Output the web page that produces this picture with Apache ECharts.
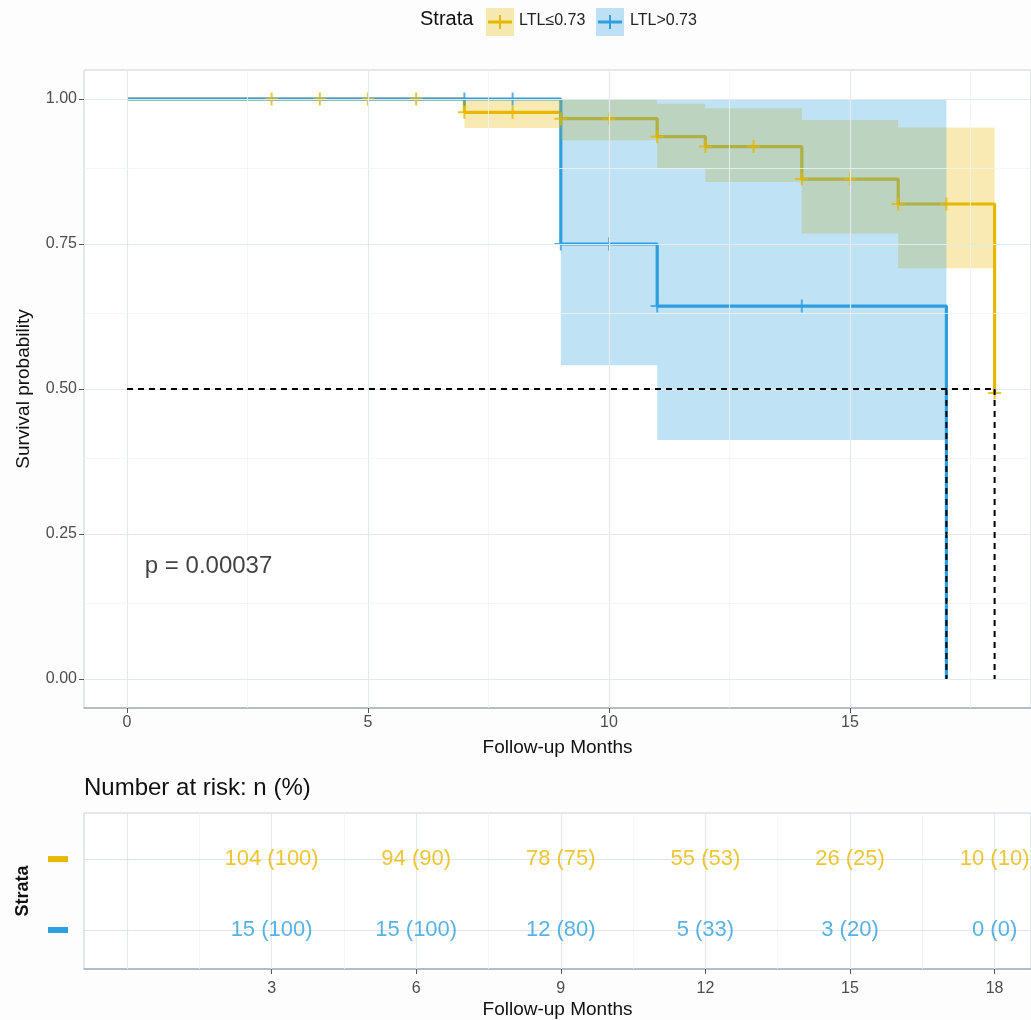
<!DOCTYPE html>
<html>
<head>
<meta charset="utf-8">
<script src="https://cdn.jsdelivr.net/npm/echarts@6/dist/echarts.min.js"></script>
<style>
  html, body { margin: 0; padding: 0; background: #fdfdfe; }
  #chart { width: 1031px; height: 1020px; }
</style>
</head>
<body>
<div id="chart"></div>
<script>
// survival curves (time, probability)
var yellowTimes = [0, 7, 9, 11, 12, 14, 16, 18];
var yellowSurv = [1, 0.977, 0.966, 0.935, 0.918, 0.862, 0.819, 0.493];
var blueTimes = [0, 9, 11, 17];
var blueSurv = [1, 0.75, 0.643, 0];

// censor marks
var yellowCensorTimes = [3, 4, 5, 6, 7, 8, 9, 10, 11, 12, 13, 14, 15, 16, 17, 18];
var yellowCensorSurv = [1, 1, 1, 1, 0.977, 0.977, 0.966, 0.966, 0.935, 0.918, 0.918, 0.862, 0.862, 0.819, 0.819, 0.493];
var blueCensorTimes = [7, 8, 9, 10, 11, 14];
var blueCensorSurv = [1, 1, 0.75, 0.75, 0.643, 0.643];

// confidence bands: [from, to, lower, upper]
var yellowBand = [[7, 9, 0.95, 1], [9, 11, 0.929, 1], [11, 12, 0.881, 0.992], [12, 14, 0.857, 0.984], [14, 16, 0.768, 0.964], [16, 18, 0.708, 0.951]];
var blueBand = [[9, 11, 0.541, 1], [11, 17, 0.412, 1]];

// median survival times
var medianTimes = [17, 18];

// number at risk table
var riskTimes = [3, 6, 9, 12, 15, 18];
var yellowRiskN = [104, 94, 78, 55, 26, 10];
var yellowRiskPct = [100, 90, 75, 53, 25, 10];
var blueRiskN = [15, 15, 12, 5, 3, 0];
var blueRiskPct = [100, 100, 80, 33, 20, 0];

var xTicks = [0, 5, 10, 15];
var yTicks = [0, 0.25, 0.5, 0.75, 1];
var riskTicks = [3, 6, 9, 12, 15, 18];

var YELLOW = '#E7B800', BLUE = '#2E9FDF';
var FONT = 'Liberation Sans';
var X_MIN = -0.892, X_MAX = 18.755;

function zip(a, b) {
  var out = [];
  for (var i = 0; i < a.length; i++) out.push([a[i], b[i]]);
  return out;
}

function bandRender(fill) {
  return function (params, api) {
    var p0 = api.coord([api.value(0), api.value(3)]);
    var p1 = api.coord([api.value(1), api.value(2)]);
    return {
      type: 'rect',
      shape: { x: p0[0], y: p0[1], width: p1[0] - p0[0], height: p1[1] - p0[1] },
      style: { fill: fill }
    };
  };
}

var MAJOR = { color: '#E4E9ED', width: 1.2, type: 'solid' };
var MINOR = { color: '#F1F3F5', width: 0.8, type: 'solid' };

// grid lines for main panel
var mainGridLines = [];
for (var gx = 0; gx <= 17.5; gx += 2.5) {
  mainGridLines.push({ xAxis: gx, lineStyle: gx % 5 === 0 ? MAJOR : MINOR });
}
for (var gy = 0; gy <= 1; gy += 0.125) {
  mainGridLines.push({ yAxis: gy, lineStyle: gy % 0.25 === 0 ? MAJOR : MINOR });
}
// grid lines for risk table
var tableGridLines = [];
for (var tx = 0; tx <= 18; tx += 1.5) {
  tableGridLines.push({ xAxis: tx, lineStyle: tx % 3 === 0 ? MAJOR : MINOR });
}
tableGridLines.push({ yAxis: 0, lineStyle: { color: '#DDE6EC', width: 1.2, type: 'solid' } });
tableGridLines.push({ yAxis: 1, lineStyle: { color: '#DDE6EC', width: 1.2, type: 'solid' } });

var medianSeries = [{
  type: 'line', xAxisIndex: 0, yAxisIndex: 0, z: 6, symbol: 'none', silent: true,
  data: [[0, 0.5], [Math.max.apply(null, medianTimes), 0.5]],
  lineStyle: { color: '#000', width: 2, type: [6, 5] }
}];
medianTimes.forEach(function (t) {
  medianSeries.push({
    type: 'line', xAxisIndex: 0, yAxisIndex: 0, z: 6, symbol: 'none', silent: true,
    data: [[t, 0.5], [t, 0]],
    lineStyle: { color: '#000', width: 2, type: [6, 5] }
  });
});

var plus = 'path://M0,5L10,5M5,0L5,10';

function riskData(row, n, pct) {
  return riskTimes.map(function (t, i) { return [t, row, n[i], pct[i]]; });
}
function riskLabel(p) { return p.value[2] + ' (' + p.value[3] + ')'; }

var chart = echarts.init(document.getElementById('chart'));
chart.setOption({
  backgroundColor: '#fdfdfe',
  animation: false,
  textStyle: { fontFamily: FONT },
  title: {
    text: 'Number at risk: n (%)',
    left: 84, top: 776, padding: 0,
    textStyle: { fontSize: 24, fontWeight: 'normal', color: '#111', fontFamily: FONT }
  },
  grid: [
    { left: 84, top: 70, width: 947, height: 638, show: true, backgroundColor: '#fff', borderColor: '#C9D2D9', borderWidth: 1 },
    { left: 84, top: 813, width: 947, height: 156, show: true, backgroundColor: '#fff', borderColor: '#C9D2D9', borderWidth: 1 }
  ],
  xAxis: [
    {
      type: 'value', gridIndex: 0, min: X_MIN, max: X_MAX,
      name: 'Follow-up Months', nameLocation: 'middle', nameGap: 30,
      nameTextStyle: { fontSize: 19, color: '#111' },
      axisLine: { show: true, onZero: false, lineStyle: { color: '#A3B0BA', width: 1.5 } },
      axisTick: { show: true, customValues: xTicks, length: 5, lineStyle: { color: '#555' } },
      axisLabel: { customValues: xTicks, fontSize: 16, color: '#4D4D4D', margin: 7 },
      splitLine: { show: false }
    },
    {
      type: 'value', gridIndex: 1, min: X_MIN, max: X_MAX,
      name: 'Follow-up Months', nameLocation: 'middle', nameGap: 31,
      nameTextStyle: { fontSize: 19, color: '#111' },
      axisLine: { show: true, onZero: false, lineStyle: { color: '#A3B0BA', width: 1.5 } },
      axisTick: { show: true, customValues: riskTicks, length: 5, lineStyle: { color: '#555' } },
      axisLabel: { customValues: riskTicks, fontSize: 16, color: '#4D4D4D', margin: 12 },
      splitLine: { show: false }
    }
  ],
  yAxis: [
    {
      type: 'value', gridIndex: 0, min: -0.05, max: 1.05,
      name: 'Survival probability', nameLocation: 'middle', nameGap: 51, nameRotate: 90,
      nameTextStyle: { fontSize: 19, color: '#111' },
      axisLine: { show: false, onZero: false },
      axisTick: { show: true, customValues: yTicks, length: 5, lineStyle: { color: '#555' } },
      axisLabel: { customValues: yTicks, fontSize: 16, color: '#4D4D4D', margin: 7,
        formatter: function (v) { return v.toFixed(2); } },
      splitLine: { show: false }
    },
    {
      type: 'value', gridIndex: 1, min: -0.55, max: 1.65,
      name: 'Strata', nameLocation: 'middle', nameGap: 52, nameRotate: 90,
      nameTextStyle: { fontSize: 18, fontWeight: 'bold', color: '#111' },
      axisLine: { show: false, onZero: false },
      axisTick: { show: false },
      axisLabel: {
        customValues: [0, 1], margin: 16,
        formatter: function (v) { return v === 1 ? '{a|}' : '{b|}'; },
        rich: {
          a: { backgroundColor: YELLOW, width: 20, height: 6 },
          b: { backgroundColor: BLUE, width: 20, height: 6 }
        }
      },
      splitLine: { show: false }
    }
  ],
  graphic: [
    { type: 'text', left: 420, top: 9, style: { text: 'Strata', fontSize: 20, fill: '#111', fontFamily: FONT } },
    { type: 'rect', left: 486, top: 8, shape: { width: 28, height: 28 }, style: { fill: 'rgba(231,184,0,0.3)' } },
    { type: 'line', shape: { x1: 488, y1: 22, x2: 512, y2: 22 }, style: { stroke: YELLOW, lineWidth: 3 } },
    { type: 'line', shape: { x1: 500, y1: 15, x2: 500, y2: 29 }, style: { stroke: YELLOW, lineWidth: 2 } },
    { type: 'text', left: 519, top: 13, style: { text: 'LTL≤0.73', fontSize: 16, fill: '#222', fontFamily: FONT } },
    { type: 'rect', left: 596, top: 8, shape: { width: 28, height: 28 }, style: { fill: 'rgba(46,159,223,0.3)' } },
    { type: 'line', shape: { x1: 598, y1: 22, x2: 622, y2: 22 }, style: { stroke: BLUE, lineWidth: 3 } },
    { type: 'line', shape: { x1: 610, y1: 15, x2: 610, y2: 29 }, style: { stroke: BLUE, lineWidth: 2 } },
    { type: 'text', left: 630, top: 13, style: { text: 'LTL>0.73', fontSize: 16, fill: '#222', fontFamily: FONT } }
  ],
  series: [
    {
      type: 'line', xAxisIndex: 0, yAxisIndex: 0, data: [], z: 1, silent: true,
      markLine: { silent: true, symbol: 'none', label: { show: false }, animation: false, data: mainGridLines }
    },
    {
      name: 'LTL≤0.73', type: 'line', step: 'end', xAxisIndex: 0, yAxisIndex: 0, z: 2,
      symbol: 'none', data: zip(yellowTimes, yellowSurv), lineStyle: { color: YELLOW, width: 3.2 }
    },
    {
      name: 'LTL>0.73', type: 'line', step: 'end', xAxisIndex: 0, yAxisIndex: 0, z: 2,
      symbol: 'none', data: zip(blueTimes, blueSurv), lineStyle: { color: BLUE, width: 3.2 }
    },
    {
      type: 'custom', xAxisIndex: 0, yAxisIndex: 0, z: 3, silent: true,
      renderItem: bandRender('rgba(231,184,0,0.3)'), data: yellowBand
    },
    {
      type: 'custom', xAxisIndex: 0, yAxisIndex: 0, z: 3, silent: true,
      renderItem: bandRender('rgba(46,159,223,0.3)'), data: blueBand
    },
    {
      type: 'scatter', xAxisIndex: 0, yAxisIndex: 0, z: 4, symbol: plus, symbolSize: 13,
      data: zip(yellowCensorTimes, yellowCensorSurv),
      itemStyle: { color: 'transparent', borderColor: YELLOW, borderWidth: 2 }
    },
    {
      type: 'scatter', xAxisIndex: 0, yAxisIndex: 0, z: 4, symbol: plus, symbolSize: 13,
      data: zip(blueCensorTimes, blueCensorSurv),
      itemStyle: { color: 'transparent', borderColor: BLUE, borderWidth: 2 }
    }
  ].concat(medianSeries).concat([
    {
      type: 'scatter', xAxisIndex: 0, yAxisIndex: 0, z: 7, symbolSize: 0, silent: true,
      data: [[0.37, 0.195]],
      label: { show: true, position: 'right', distance: 0, formatter: 'p = 0.00037', fontSize: 24, color: '#111' }
    },
    {
      type: 'line', xAxisIndex: 1, yAxisIndex: 1, data: [], z: 1, silent: true,
      markLine: { silent: true, symbol: 'none', label: { show: false }, animation: false, data: tableGridLines }
    },
    {
      type: 'scatter', xAxisIndex: 1, yAxisIndex: 1, z: 5, symbolSize: 0, silent: true,
      data: riskData(1, yellowRiskN, yellowRiskPct),
      label: { show: true, position: 'inside', fontSize: 22, color: YELLOW, formatter: riskLabel }
    },
    {
      type: 'scatter', xAxisIndex: 1, yAxisIndex: 1, z: 5, symbolSize: 0, silent: true,
      data: riskData(0, blueRiskN, blueRiskPct),
      label: { show: true, position: 'inside', fontSize: 22, color: BLUE, formatter: riskLabel }
    }
  ])
});
</script>
</body>
</html>
